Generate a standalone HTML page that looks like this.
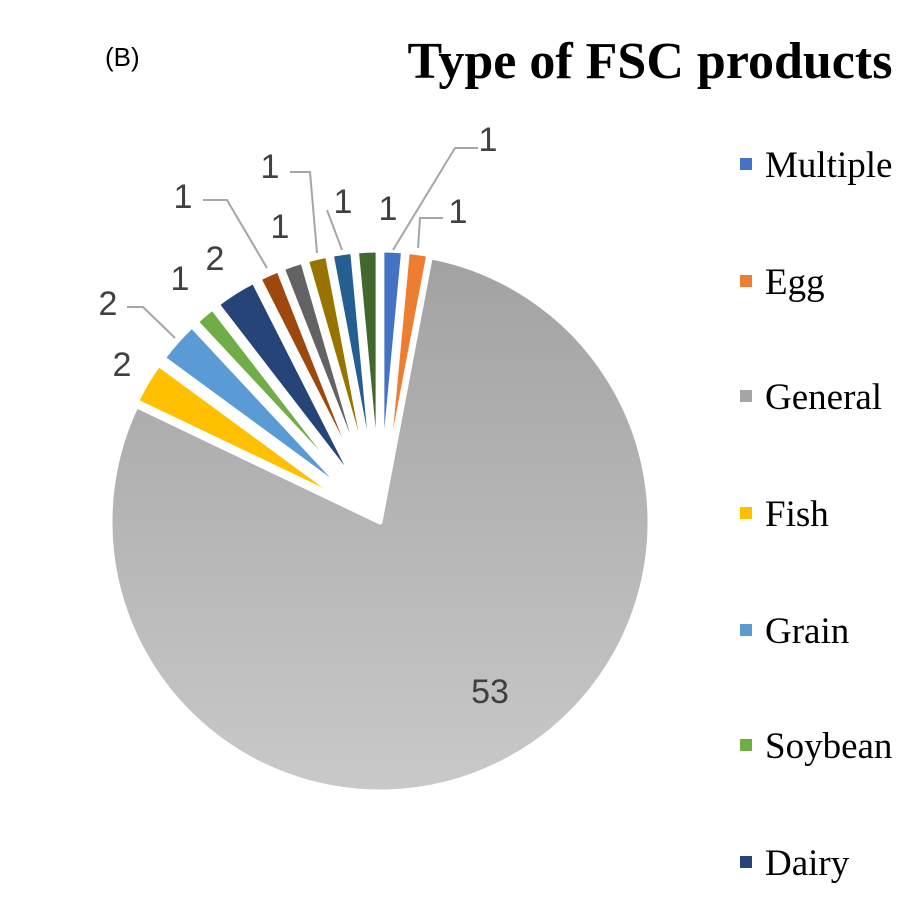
<!DOCTYPE html>
<html><head><meta charset="utf-8"><style>
html,body{margin:0;padding:0;background:#fff;width:919px;height:922px;overflow:hidden}
svg{display:block}
</style></head><body>
<svg id="s" width="919" height="922" viewBox="0 0 919 922" xmlns="http://www.w3.org/2000/svg">
<defs>
<linearGradient id="gg" x1="0" y1="0" x2="0" y2="1"><stop offset="0" stop-color="#a2a2a2"/><stop offset="1" stop-color="#c9c9c9"/></linearGradient>
</defs>
<g id="pie"></g>
<g stroke="#a6a6a6" stroke-width="2" fill="none">
<polyline points="478,148 455,148 393,250"/>
<polyline points="443,218 420,218 418,248"/>
<polyline points="327,210 342,250"/>
<polyline points="290,172 310,172 317,253"/>
<polyline points="203,200 227,200 267,268"/>
<polyline points="127,307 143,307 175,338"/>
</g>
<g font-family="Liberation Sans, sans-serif" font-size="34" fill="#404040" text-anchor="middle">
<text x="488" y="151">1</text>
<text x="458" y="223">1</text>
<text x="388" y="220">1</text>
<text x="343" y="213">1</text>
<text x="270" y="178">1</text>
<text x="280" y="238">1</text>
<text x="183" y="208">1</text>
<text x="215" y="270">2</text>
<text x="180" y="290">1</text>
<text x="108" y="315">2</text>
<text x="122" y="376">2</text>
<text x="490" y="703">53</text>
</g>
<text x="105" y="66" font-family="Liberation Sans, sans-serif" font-size="26" fill="#000">(B)</text>
<text x="650" y="78" font-family="Liberation Serif, serif" font-weight="bold" font-size="52" text-anchor="middle" fill="#000">Type of FSC products</text>
<g font-family="Liberation Serif, serif" font-size="37" fill="#000">
<rect x="740" y="158" width="12" height="12" fill="#4472C4"/><text x="765" y="177">Multiple</text>
<rect x="740" y="275" width="12" height="12" fill="#ED7D31"/><text x="765" y="294">Egg</text>
<rect x="740" y="390" width="12" height="12" fill="#A5A5A5"/><text x="765" y="409">General</text>
<rect x="740" y="507" width="12" height="12" fill="#FFC000"/><text x="765" y="526">Fish</text>
<rect x="740" y="624" width="12" height="12" fill="#5B9BD5"/><text x="765" y="643">Grain</text>
<rect x="740" y="739" width="12" height="12" fill="#70AD47"/><text x="765" y="758">Soybean</text>
<rect x="740" y="856" width="12" height="12" fill="#264478"/><text x="765" y="875">Dairy</text>
</g>
</svg>
<script>
(function(){
var data=[[1,"#4472C4"],[1,"#ED7D31"],[53,"url(#gg)"],[2,"#FFC000"],[2,"#5B9BD5"],[1,"#70AD47"],[2,"#264478"],[1,"#9E480E"],[1,"#636363"],[1,"#997300"],[1,"#255E91"],[1,"#43682B"]];
var tot=67,a=0,cx=380,cy=522,g=document.getElementById("pie"),h="";
function pt(x,y,r,t){return [x+r*Math.sin(t),y-r*Math.cos(t)];}
data.forEach(function(d){
 var a0=a/tot*2*Math.PI,a1=(a+d[0])/tot*2*Math.PI;a+=d[0];
 var m=(a0+a1)/2,x=cx,y=cy,r=270;
 if(d[0]!=53){x=cx+40*Math.sin(m);y=cy-40*Math.cos(m);r=232;}
 var p0=pt(x,y,r,a0),p1=pt(x,y,r,a1),big=(a1-a0)>Math.PI?1:0;
 h+='<path d="M'+x+','+y+' L'+p0[0]+','+p0[1]+' A'+r+','+r+' 0 '+big+' 1 '+p1[0]+','+p1[1]+' Z" fill="'+d[1]+'" stroke="#fff" stroke-width="5" stroke-linejoin="round"/>';
});
g.innerHTML=h;
})();
</script>
</body></html>
